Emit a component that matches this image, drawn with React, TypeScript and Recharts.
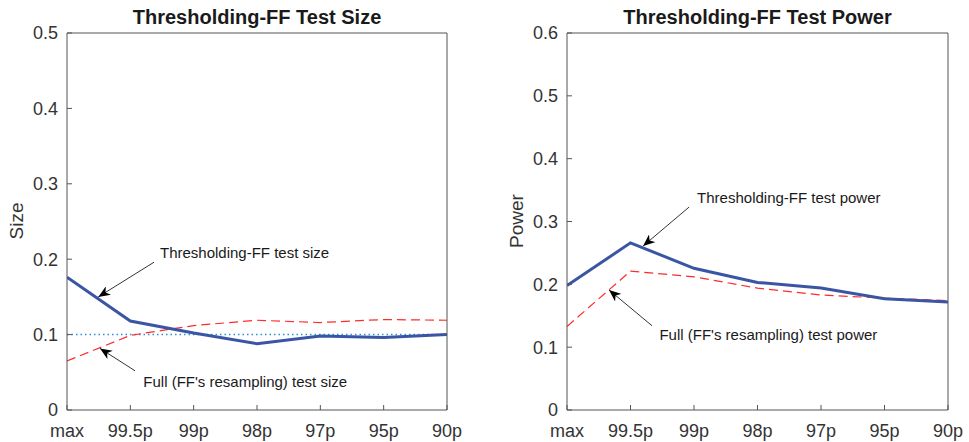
import {
  LineChart,
  Line,
  XAxis,
  YAxis,
  ReferenceLine,
  ReferenceDot,
} from "recharts";

const categories = ["max", "99.5p", "99p", "98p", "97p", "95p", "90p"];

const sizeThresholding = [0.176, 0.118, 0.102, 0.088, 0.098, 0.096, 0.1];
const sizeFull = [0.065, 0.099, 0.112, 0.119, 0.116, 0.12, 0.119];
const powerThresholding = [0.198, 0.266, 0.2255, 0.203, 0.194, 0.177, 0.172];
const powerFull = [0.133, 0.221, 0.212, 0.194, 0.183, 0.178, 0.174];

const sizeTicks = [0, 0.1, 0.2, 0.3, 0.4, 0.5];
const powerTicks = [0, 0.1, 0.2, 0.3, 0.4, 0.5, 0.6];

// annotation arrows: [tailX, tailY, headX, headY] in data units
const sizeArrows = [
  [1.374, 0.196, 0.494, 0.15],
  [1.074, 0.052, 0.521, 0.0817],
];
const powerArrows = [
  [1.923, 0.323, 1.198, 0.261],
  [1.34, 0.134, 0.662, 0.191],
];
// annotation texts: [x, y, text]
const sizeNotes: [number, number, string][] = [
  [1.468, 0.2013, "Thresholding-FF test size"],
  [1.205, 0.0309, "Full (FF's resampling) test size"],
];
const powerNotes: [number, number, string][] = [
  [2.049, 0.33, "Thresholding-FF test power"],
  [1.455, 0.1114, "Full (FF's resampling) test power"],
];

const FONT = "'Liberation Sans', Arial, Helvetica, sans-serif";
const AXIS = "#555";
const TEXT = "#333";
const BLUE = "#3a55a4";
const RED = "#ff2a2a";

const build = (a: number[], b: number[]) =>
  categories.map((c, i) => ({ idx: i, label: c, thr: a[i], full: b[i] }));

interface PanelProps {
  id: string;
  title: string;
  yLabel: string;
  thr: number[];
  full: number[];
  ticks: number[];
  arrows: number[][];
  notes: [number, number, string][];
  width: number;
  rightMargin: number;
  showRef?: boolean;
}

function Panel(p: PanelProps) {
  const data = build(p.thr, p.full);
  const yMax = p.ticks[p.ticks.length - 1];
  const plotLeft = 67;
  const plotRight = p.width - p.rightMargin - 1;
  return (
    <LineChart
      width={p.width}
      height={442}
      data={data}
      margin={{ top: 32, right: p.rightMargin, bottom: 0, left: 0 }}
      style={{ fontFamily: FONT }}
    >
      <defs>
        <marker
          id={`arrow-${p.id}`}
          viewBox="0 0 12 10"
          refX="12"
          refY="5"
          markerWidth="12"
          markerHeight="10"
          markerUnits="userSpaceOnUse"
          orient="auto"
        >
          <path d="M0,0 L12,5 L0,10 L3.5,5 z" fill="#000" />
        </marker>
      </defs>
      <text
        x={(plotLeft + plotRight) / 2}
        y={24}
        textAnchor="middle"
        fontSize={20}
        fontWeight="bold"
        fill="#1a1a1a"
        fontFamily={FONT}
      >
        {p.title}
      </text>
      <text
        x={23}
        y={221}
        transform="rotate(-90, 23, 221)"
        textAnchor="middle"
        fontSize={19}
        fill={TEXT}
        fontFamily={FONT}
      >
        {p.yLabel}
      </text>
      <XAxis
        dataKey="idx"
        type="number"
        domain={[0, 6]}
        ticks={[0, 1, 2, 3, 4, 5, 6]}
        tickFormatter={(v: number) => categories[v]}
        height={32}
        tickSize={-5}
        tickMargin={19}
        stroke={AXIS}
        tick={{ fill: TEXT, fontSize: 18, fontFamily: FONT }}
        allowDataOverflow
      />
      <XAxis
        xAxisId="top"
        dataKey="idx"
        type="number"
        orientation="top"
        domain={[0, 6]}
        ticks={[0, 1, 2, 3, 4, 5, 6]}
        height={1}
        tickSize={-5}
        tick={false}
        stroke={AXIS}
      />
      <YAxis
        type="number"
        domain={[0, yMax]}
        ticks={p.ticks}
        width={67}
        tickSize={-5}
        tickMargin={14}
        stroke={AXIS}
        tick={{ fill: TEXT, fontSize: 18, fontFamily: FONT }}
        tickFormatter={(v: number) => (v === 0 ? "0" : v.toFixed(1))}
        allowDataOverflow
      />
      <YAxis
        yAxisId="right"
        orientation="right"
        type="number"
        domain={[0, yMax]}
        ticks={p.ticks}
        width={1}
        tickSize={-5}
        tick={false}
        stroke={AXIS}
      />
      {p.showRef && (
        <ReferenceLine
          y={0.1}
          stroke="#2a8fdc"
          strokeWidth={1.5}
          strokeDasharray="1.5 3"
        />
      )}
      <Line
        type="linear"
        dataKey="full"
        stroke={RED}
        strokeWidth={1.2}
        strokeDasharray="9 5"
        dot={false}
        isAnimationActive={false}
      />
      <Line
        type="linear"
        dataKey="thr"
        stroke={BLUE}
        strokeWidth={3}
        dot={false}
        isAnimationActive={false}
      />
      {p.arrows.map((a, i) => (
        <ReferenceLine
          key={`a${i}`}
          segment={[
            { x: a[0], y: a[1] },
            { x: a[2], y: a[3] },
          ]}
          shape={(sp: any) => (
            <line
              x1={sp.x1}
              y1={sp.y1}
              x2={sp.x2}
              y2={sp.y2}
              stroke="#000"
              strokeWidth={0.8}
              markerEnd={`url(#arrow-${p.id})`}
            />
          )}
        />
      ))}
      {p.notes.map((n, i) => (
        <ReferenceDot
          key={`n${i}`}
          x={n[0]}
          y={n[1]}
          r={1}
          shape={(dp: any) => (
            <text
              x={dp.cx}
              y={dp.cy}
              fontSize={15}
              fill="#1a1a1a"
              fontFamily={FONT}
            >
              {n[2]}
            </text>
          )}
        />
      ))}
    </LineChart>
  );
}

export default function App() {
  return (
    <div
      style={{
        position: "absolute",
        left: 0,
        top: 0,
        width: 969,
        height: 442,
        background: "#fff",
        overflow: "hidden",
      }}
    >
      <div style={{ position: "absolute", left: 0, top: 0 }}>
        <Panel
          id="size"
          title="Thresholding-FF Test Size"
          yLabel="Size"
          thr={sizeThresholding}
          full={sizeFull}
          ticks={sizeTicks}
          arrows={sizeArrows}
          notes={sizeNotes}
          width={480}
          rightMargin={32}
          showRef
        />
      </div>
      <div style={{ position: "absolute", left: 500, top: 0 }}>
        <Panel
          id="power"
          title="Thresholding-FF Test Power"
          yLabel="Power"
          thr={powerThresholding}
          full={powerFull}
          ticks={powerTicks}
          arrows={powerArrows}
          notes={powerNotes}
          width={469}
          rightMargin={20}
        />
      </div>
    </div>
  );
}
